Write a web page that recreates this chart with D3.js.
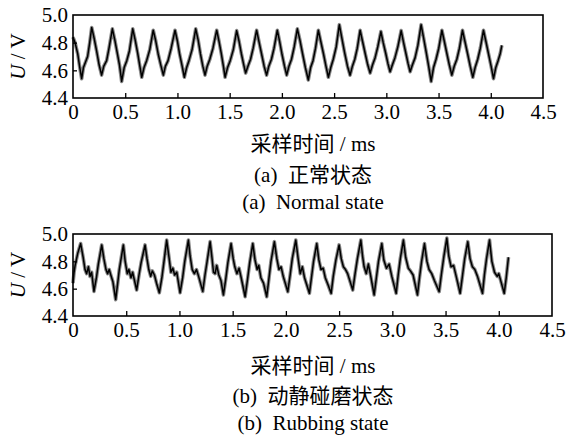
<!DOCTYPE html>
<meta charset="utf-8">
<style>
 body { margin: 0; background: #fff; }
 text { font-family: "Liberation Serif", "Times New Roman", "Noto Sans CJK SC", serif; font-size: 21px; fill: #000; }
 .cap { white-space: pre; }
 .frame { fill: none; stroke: #000; stroke-width: 1.6px; }
 .tick line { stroke: #000; stroke-width: 1.3px; }
 .halo { fill: none; stroke: #555; stroke-width: 3.6px; stroke-opacity: 0.7; stroke-linejoin: round; }
 .trace { fill: none; stroke: #000; stroke-width: 1.5px; stroke-linejoin: round; }
</style>
<svg id="chart" width="578" height="436"></svg>
<script src="https://cdn.jsdelivr.net/npm/d3@7"></script>
<script>

 var xTicks = [0, 0.5, 1.0, 1.5, 2.0, 2.5, 3.0, 3.5, 4.0, 4.5];
 var yTicks = [4.4, 4.6, 4.8, 5.0];

 // (a) normal state, time in ms / voltage in V
 var normalT = [0.000,0.020,0.045,0.065,0.083,0.100,0.120,0.140,0.160,0.179,0.200,0.226,0.250,0.274,0.295,0.322,0.345,0.377,
  0.400,0.425,0.445,0.466,0.490,0.515,0.540,0.572,0.595,0.620,0.640,0.658,0.680,0.705,0.735,0.768,0.790,0.815,0.840,0.865,
  0.885,0.910,0.940,0.977,1.000,1.020,1.045,1.066,1.088,1.110,1.140,1.175,1.198,1.220,1.243,1.264,1.285,1.310,1.340,1.376,
  1.398,1.420,1.440,1.456,1.480,1.505,1.535,1.567,1.590,1.612,1.635,1.653,1.675,1.700,1.725,1.758,1.780,1.805,1.830,1.854,
  1.875,1.900,1.925,1.956,1.978,2.000,2.025,2.046,2.068,2.092,2.118,2.148,2.172,2.198,2.225,2.253,2.275,2.298,2.322,2.349,
  2.372,2.398,2.422,2.445,2.468,2.492,2.520,2.550,2.575,2.600,2.628,2.653,2.675,2.698,2.722,2.749,2.772,2.798,2.822,2.845,
  2.868,2.892,2.918,2.948,2.970,2.995,3.015,3.036,3.058,3.082,3.110,3.142,3.165,3.188,3.208,3.228,3.250,3.275,3.302,3.333,
  3.358,3.382,3.405,3.429,3.452,3.476,3.502,3.532,3.555,3.580,3.603,3.627,3.650,3.675,3.700,3.729,3.752,3.778,3.803,3.828,
  3.850,3.875,3.900,3.930,3.953,3.978,4.003,4.026,4.048,4.070,4.090,4.106];
 var normalU = [4.84,4.80,4.72,4.62,4.54,4.62,4.66,4.70,4.80,4.91,4.84,4.74,4.64,4.565,4.63,4.67,4.76,4.90,
  4.82,4.72,4.64,4.52,4.62,4.67,4.74,4.90,4.82,4.72,4.63,4.55,4.62,4.67,4.75,4.89,4.82,4.72,4.64,4.565,
  4.63,4.67,4.76,4.89,4.81,4.72,4.63,4.55,4.62,4.67,4.75,4.90,4.82,4.72,4.63,4.565,4.63,4.68,4.76,4.89,
  4.81,4.72,4.63,4.55,4.62,4.67,4.75,4.887,4.81,4.72,4.64,4.58,4.63,4.68,4.76,4.89,4.81,4.72,4.63,4.565,
  4.63,4.68,4.76,4.89,4.81,4.72,4.63,4.565,4.63,4.68,4.77,4.90,4.82,4.72,4.62,4.53,4.62,4.67,4.76,4.89,
  4.81,4.72,4.63,4.55,4.62,4.68,4.77,4.93,4.83,4.73,4.63,4.565,4.63,4.68,4.76,4.89,4.81,4.72,4.64,4.58,
  4.64,4.69,4.77,4.88,4.80,4.72,4.65,4.59,4.64,4.69,4.77,4.887,4.80,4.72,4.65,4.59,4.64,4.69,4.78,4.93,
  4.83,4.73,4.63,4.52,4.62,4.68,4.76,4.89,4.81,4.72,4.64,4.565,4.63,4.68,4.76,4.89,4.81,4.72,4.63,4.55,
  4.62,4.68,4.76,4.89,4.81,4.72,4.63,4.54,4.62,4.67,4.72,4.78];

 // (b) rubbing state
 var rubT = [0.000,0.010,0.020,0.045,0.072,0.095,0.113,0.128,0.145,0.160,0.175,0.197,0.220,0.238,0.270,0.290,0.310,0.325,
  0.340,0.355,0.375,0.401,0.420,0.435,0.473,0.490,0.510,0.525,0.545,0.560,0.598,0.620,0.640,0.677,0.695,0.712,0.730,0.745,
  0.765,0.785,0.811,0.835,0.855,0.880,0.900,0.920,0.938,0.955,0.975,1.006,1.030,1.050,1.084,1.100,1.120,1.140,1.160,1.180,
  1.219,1.240,1.260,1.288,1.305,1.320,1.335,1.350,1.370,1.390,1.413,1.435,1.455,1.485,1.505,1.520,1.540,1.560,1.580,1.617,
  1.640,1.660,1.689,1.710,1.730,1.745,1.765,1.790,1.820,1.840,1.860,1.892,1.915,1.935,1.955,1.975,2.018,2.040,2.060,2.093,
  2.115,2.135,2.155,2.175,2.221,2.240,2.260,2.290,2.310,2.330,2.350,2.370,2.395,2.425,2.445,2.470,2.500,2.520,2.540,2.560,
  2.580,2.628,2.650,2.672,2.704,2.720,2.735,2.755,2.775,2.795,2.829,2.850,2.870,2.901,2.920,2.945,2.970,2.995,3.036,3.055,
  3.075,3.104,3.125,3.150,3.170,3.195,3.236,3.255,3.275,3.302,3.325,3.345,3.370,3.395,3.440,3.460,3.485,3.512,3.530,3.552,
  3.575,3.600,3.637,3.660,3.680,3.709,3.730,3.752,3.775,3.800,3.847,3.865,3.885,3.913,3.935,3.960,3.985,4.000,4.051,4.070,4.091];
 var rubU = [4.64,4.72,4.77,4.86,4.93,4.83,4.74,4.71,4.76,4.69,4.72,4.58,4.68,4.78,4.92,4.82,4.74,4.71,
  4.74,4.70,4.65,4.52,4.64,4.74,4.92,4.80,4.71,4.74,4.68,4.72,4.59,4.70,4.79,4.92,4.82,4.74,4.69,4.73,
  4.70,4.64,4.57,4.68,4.80,4.956,4.84,4.72,4.75,4.70,4.72,4.57,4.68,4.80,4.956,4.84,4.74,4.71,4.74,4.69,
  4.58,4.70,4.80,4.944,4.83,4.72,4.71,4.77,4.70,4.66,4.554,4.67,4.79,4.93,4.82,4.76,4.71,4.75,4.68,4.541,
  4.67,4.79,4.93,4.81,4.74,4.77,4.68,4.64,4.541,4.67,4.80,4.944,4.82,4.74,4.76,4.69,4.578,4.70,4.82,4.956,
  4.82,4.71,4.76,4.68,4.566,4.68,4.80,4.93,4.81,4.74,4.75,4.68,4.63,4.566,4.69,4.81,4.92,4.82,4.76,4.74,
  4.71,4.59,4.71,4.82,4.956,4.84,4.76,4.71,4.78,4.70,4.554,4.68,4.80,4.93,4.81,4.75,4.78,4.69,4.566,4.70,
  4.82,4.956,4.83,4.75,4.73,4.70,4.554,4.68,4.80,4.93,4.80,4.74,4.71,4.66,4.578,4.70,4.84,4.97,4.84,4.76,
  4.77,4.69,4.566,4.70,4.82,4.944,4.82,4.76,4.74,4.69,4.566,4.70,4.82,4.956,4.80,4.72,4.69,4.71,4.566,4.68,4.83];

 var svg = d3.select("#chart");

 var panels = [
     { t: normalT, u: normalU, left: 73, right: 543, top: 15, bottom: 98,
       caps: [["采样时间 / ms", 151], ["(a)  正常状态", 182], ["(a)  Normal state", 209]] },
     { t: rubT, u: rubU, left: 73, right: 552, top: 234, bottom: 316,
       caps: [["采样时间 / ms", 372.5], ["(b)  动静碰磨状态", 403], ["(b)  Rubbing state", 430]] }
 ];

 panels.forEach(function(p) {
     var x = d3.scaleLinear().domain([0, 4.5]).range([p.left, p.right]);
     var y = d3.scaleLinear().domain([4.4, 5.0]).range([p.bottom, p.top]);

     var pts = p.t.map(function(t, i) { return [t, p.u[i]]; });
     var line = d3.line().x(function(d) { return x(d[0]); }).y(function(d) { return y(d[1]); });

     svg.append("path").attr("class", "halo").attr("d", line(pts));
     svg.append("path").attr("class", "trace").attr("d", line(pts));

     var gx = svg.append("g").attr("transform", "translate(0," + p.bottom + ")")
                 .call(d3.axisBottom(x).tickValues(xTicks).tickSizeInner(-5).tickSizeOuter(0).tickPadding(6)
                       .tickFormat(function(d) { return d == 0 ? "0" : d3.format(".1f")(d); }));
     gx.select(".domain").remove();
     gx.attr("font-size", null).attr("font-family", null);
     gx.selectAll(".tick").filter(function(d) { return d == 0 || d == 4.5; }).select("line").remove();

     var gy = svg.append("g").attr("transform", "translate(" + p.left + ",0)")
                 .call(d3.axisLeft(y).tickValues(yTicks).tickSizeInner(-4).tickSizeOuter(0).tickPadding(5)
                       .tickFormat(d3.format(".1f")));
     gy.select(".domain").remove();
     gy.attr("font-size", null).attr("font-family", null);
     gy.selectAll(".tick").filter(function(d) { return d == 4.4 || d == 5.0; }).select("line").remove();

     svg.append("rect").attr("class", "frame")
        .attr("x", p.left).attr("y", p.top)
        .attr("width", p.right - p.left).attr("height", p.bottom - p.top);

     var ylab = svg.append("text")
        .attr("transform", "translate(25," + ((p.top + p.bottom) / 2) + ") rotate(-90)")
        .attr("text-anchor", "middle").attr("class", "cap");
     ylab.append("tspan").attr("font-style", "italic").text("U");
     ylab.append("tspan").text(" / V");

     p.caps.forEach(function(c) {
         svg.append("text").attr("class", "cap").attr("x", 313).attr("y", c[1])
            .attr("text-anchor", "middle").text(c[0]);
     });
 });

</script>
